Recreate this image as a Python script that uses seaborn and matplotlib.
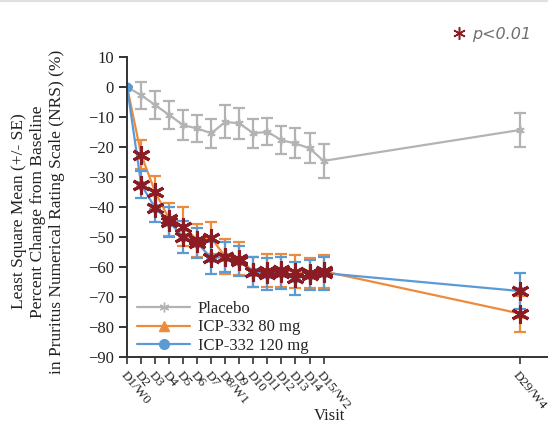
import matplotlib.pyplot as plt
import numpy as np
import pandas as pd
import seaborn as sns
from matplotlib.lines import Line2D

# Visit days and labels
days = [1, 2, 3, 4, 5, 6, 7, 8, 9, 10, 11, 12, 13, 14, 15, 29]
visit_labels = ['D1/W0', 'D2', 'D3', 'D4', 'D5', 'D6', 'D7', 'D8/W1', 'D9', 'D10',
                'D11', 'D12', 'D13', 'D14', 'D15/W2', 'D29/W4']

# LS mean percent change and SE
placebo = [0, -2.7, -6, -9.3, -12.7, -13.8, -15.4, -11.6, -12.1, -15.4, -14.9, -17.7, -18.8, -20.4, -24.6, -14.3]
placebo_se = [0, 4.5, 4.8, 4.8, 5.0, 4.5, 4.8, 5.5, 5.2, 4.8, 4.5, 4.6, 5.0, 5.0, 5.6, 5.6]
icp80 = [0, -22.5, -35, -44, -46.5, -51, -50.3, -56.6, -57.2, -61.5, -61.2, -61, -61.6, -62, -61.4, -75.5]
icp80_se = [0, 4.8, 5.5, 5.5, 6.5, 5.5, 5.3, 5.8, 5.5, 5.0, 5.5, 5.5, 5.5, 5.0, 5.5, 6.0]
icp120 = [0, -32.5, -40.3, -45, -50, -52, -57, -56.6, -58, -61.8, -62.3, -62, -63.8, -62.7, -62, -68]
icp120_se = [0, 4.5, 4.8, 5.0, 5.2, 5.0, 5.3, 5.0, 5.0, 5.0, 5.2, 5.2, 5.5, 5.0, 5.5, 6.0]

groups = ['Placebo', 'ICP-332 80 mg', 'ICP-332 120 mg']
colors = {'Placebo': '#b3b3b3', 'ICP-332 80 mg': '#ec8b3e', 'ICP-332 120 mg': '#5b9bd5'}
markers = {'Placebo': (6, 2, 0), 'ICP-332 80 mg': '^', 'ICP-332 120 mg': 'o'}
star_color = '#8b1c24'

df = pd.DataFrame({
    'day': days * 3,
    'value': placebo + icp80 + icp120,
    'se': placebo_se + icp80_se + icp120_se,
    'group': [g for g in groups for _ in days],
})

sns.set_style('ticks')
plt.rcParams['font.family'] = ['Liberation Serif', 'DejaVu Serif']

fig = plt.figure(figsize=(5.48, 4.23), dpi=100)
ax = fig.add_axes([0.232, 0.156, 0.768, 0.709])

# lines + error bars
for g in groups:
    sub = df[df.group == g]
    sns.lineplot(data=sub, x='day', y='value', color=colors[g], marker=markers[g],
                 markersize=6, linewidth=1.6, markeredgewidth=1.2,
                 markeredgecolor=colors[g], ax=ax, legend=False)
    ax.errorbar(sub['day'], sub['value'], yerr=sub['se'], fmt='none',
                ecolor=colors[g], elinewidth=1.6, capsize=4, capthick=1.6)

# significance markers
sig = df[(df.group != 'Placebo') & (df.day > 1)]
ax.plot(sig['day'], sig['value'], ls='none', marker=(6, 2, 0), markersize=13,
        markeredgewidth=2.2, color=star_color, zorder=5)

ax.set_xlim(1, 31)
ax.set_ylim(-90, 10)
ax.set_yticks(np.arange(-90, 11, 10))
ax.set_xticks(days)
ax.set_xticklabels(visit_labels, rotation=-50, ha='left', va='top',
                   rotation_mode='anchor', fontsize=9.5)
ax.tick_params(axis='y', labelsize=12, direction='out', length=6, width=1.4, colors='#333333')
ax.tick_params(axis='x', direction='out', length=5, width=1.2, colors='#333333')
for lbl in ax.get_xticklabels() + ax.get_yticklabels():
    lbl.set_color('#222222')
sns.despine(ax=ax)
for s in ['left', 'bottom']:
    ax.spines[s].set_linewidth(1.4)
    ax.spines[s].set_color('#333333')

ax.set_xlabel('Visit', fontsize=12, color='#222222')
ax.xaxis.set_label_coords(0.48, -0.17)
ax.set_ylabel('Least Square Mean (+/- SE)\nPercent Change from Baseline\nin Pruritus Numerical Rating Scale (NRS) (%)',
              fontsize=12.5, linespacing=1.25, color='#222222')
ax.yaxis.set_label_coords(-0.148, 0.485)

handles = [Line2D([], [], color=colors[g], marker=markers[g], markersize=7, lw=1.6) for g in groups]
ax.legend(handles, groups, loc='lower left', bbox_to_anchor=(0.0, -0.023), frameon=False,
          fontsize=12, handlelength=3.2, handletextpad=0.45, labelspacing=0.15, borderaxespad=0.2)

# p-value key
fig.legend([Line2D([], [], ls='none', marker=(6, 2, 0), markersize=9, markeredgewidth=1.1, color=star_color)],
           ['p<0.01'], loc='upper right', bbox_to_anchor=(0.995, 0.97), frameon=False,
           handlelength=1.0, handletextpad=0.3,
           prop={'family': 'DejaVu Sans', 'style': 'italic', 'size': 11.5})
for t in fig.legends[0].get_texts():
    t.set_color('#707070')

fig.add_artist(Line2D([0, 1], [0.998, 0.998], color='#e0e0e0', lw=1.5))

fig.savefig('out.png', dpi=100)
